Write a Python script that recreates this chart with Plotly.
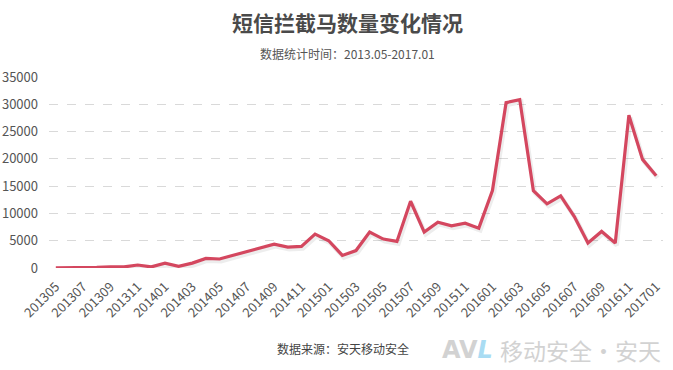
import plotly.graph_objects as go

months = []
for y in range(2013, 2018):
    for m in range(1, 13):
        ym = y * 100 + m
        if 201305 <= ym <= 201701:
            months.append(str(ym))

values = [50, 50, 80, 100, 200, 200, 550, 200, 900, 300,
          900, 1750, 1650, 2350, 3000, 3700, 4380, 3830, 3950, 6200,
          5000, 2300, 3200, 6570, 5300, 4870, 12230, 6570, 8400, 7730,
          8220, 7300, 14180, 30300, 30860, 14180, 11750, 13200, 9430, 4570,
          6700, 4570, 28000, 19900, 16920]

tick_labels = months[::2]
y_ticks = [0, 5000, 10000, 15000, 20000, 25000, 30000, 35000]

title_text = "短信拦截马数量变化情况"
subtitle_text = "数据统计时间：2013.05-2017.01"
source_text = "数据来源：安天移动安全"

FONT = "Noto Sans CJK SC, Microsoft YaHei, sans-serif"
LINE = "#d4475f"

fig = go.Figure()

# soft shadow under the line (drawn on slightly shifted base axes)
fig.add_trace(go.Scatter(
    x=months, y=values, mode="lines", xaxis="x", yaxis="y",
    line=dict(color="rgba(0,0,0,0.07)", width=4.5),
    hoverinfo="skip", showlegend=False))

fig.add_trace(go.Scatter(
    x=months, y=values, mode="lines", xaxis="x2", yaxis="y2",
    line=dict(color=LINE, width=3.2),
    showlegend=False, name="短信拦截马"))

W, H = 673, 370
l, r, t, b = 49, 10, 77, 102

fig.update_layout(
    width=W, height=H,
    margin=dict(l=l, r=r, t=t, b=b, autoexpand=False),
    paper_bgcolor="white", plot_bgcolor="white",
    font=dict(family=FONT, color="#555", size=12),
    xaxis=dict(type="category", categoryorder="array", categoryarray=months,
               range=[-0.61, 44.39], showgrid=False, showticklabels=False,
               zeroline=False, showline=False, ticks=""),
    yaxis=dict(range=[400, 35400], showgrid=False, showticklabels=False,
               zeroline=False, showline=False, ticks=""),
    xaxis2=dict(type="category", categoryorder="array", categoryarray=months,
                overlaying="x", side="bottom", range=[-0.5, 44.5],
                tickmode="array", tickvals=tick_labels, ticktext=tick_labels,
                tickangle=-45, showgrid=False, zeroline=False, showline=False,
                ticks="outside", ticklen=5, tickcolor="rgba(0,0,0,0)",
                tickfont=dict(size=13, color="#555", family=FONT)),
    yaxis2=dict(overlaying="y", side="left", range=[0, 35000],
                tickmode="array", tickvals=y_ticks,
                ticktext=[str(v) for v in y_ticks],
                showgrid=True, gridcolor="#d9d9d9", griddash="dash", gridwidth=1,
                zeroline=False, showline=False, ticks="",
                ticklabelstandoff=10,
                tickfont=dict(size=13, color="#555", family=FONT)),
    annotations=[
        dict(text="<b>" + title_text + "</b>", x=347, y=22,
             font=dict(size=21, color="#4a4a4a", family=FONT)),
        dict(text=subtitle_text, x=347, y=53,
             font=dict(size=12, color="#555", family=FONT)),
        dict(text=source_text, x=343, y=348,
             font=dict(size=12, color="#444", family=FONT)),
        dict(text="<b>AV</b><span style='color:#a9dcf3'><b><i>L</i></b></span>",
             x=467, y=350,
             font=dict(size=24, color="#d2d2d2", family="DejaVu Sans")),
        dict(text="移动安全·安天", x=580, y=350,
             font=dict(size=23, color="#d2d2d2", family=FONT)),
    ],
)

# convert pixel annotation positions to paper coords
pw, ph = W - l - r, H - t - b
for a in fig.layout.annotations:
    px, py = a.x, a.y
    a.x = (px - l) / pw
    a.y = (H - b - py) / ph
    a.xref = "paper"
    a.yref = "paper"
    a.showarrow = False
    a.xanchor = "center"
    a.yanchor = "middle"

fig.write_html("out.html", config={"displayModeBar": False},
               post_script="document.body.style.margin='0';document.body.style.overflow='hidden';")
